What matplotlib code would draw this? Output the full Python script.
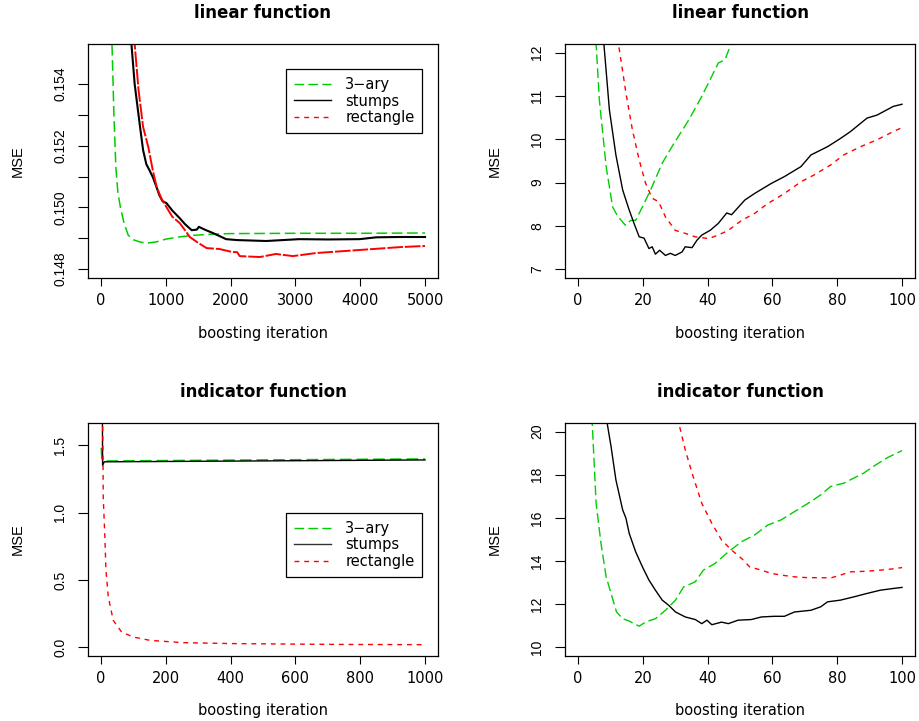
import matplotlib
matplotlib.use("Agg")
import matplotlib.pyplot as plt
from matplotlib.lines import Line2D

# ---- data ----
# top left: linear function, 5000 iterations
tl_iter_3ary = [100, 170, 200, 230, 260, 300, 355, 420, 500, 600, 700, 850, 1000,
                1200, 1400, 1700, 2000, 3000, 4000, 5000]
tl_mse_3ary = [0.165, 0.1553, 0.1530, 0.1513, 0.1505, 0.1500, 0.1495, 0.1491, 0.14895,
               0.14888, 0.14884, 0.14888, 0.14897, 0.14904, 0.14909, 0.14913, 0.14915,
               0.14916, 0.14916, 0.14917]
tl_iter_stumps = [430, 470, 520, 570, 610, 650, 700, 750, 800, 850, 900, 950, 1010, 1100,
                  1215, 1300, 1400, 1480, 1510, 1600, 1725, 1850, 1930, 2100, 2550, 3060,
                  3500, 3990, 4250, 4600, 5000]
tl_mse_stumps = [0.158, 0.1553, 0.1540, 0.15316, 0.1525, 0.15186, 0.1514, 0.1512, 0.15098,
                 0.1507, 0.1504, 0.1502, 0.15014, 0.1499, 0.14965, 0.14945, 0.14926,
                 0.14928, 0.14937, 0.14928, 0.14917, 0.14905, 0.14897, 0.14894, 0.14891,
                 0.14897, 0.14896, 0.14897, 0.14903, 0.14904, 0.14904]
tl_iter_rect = [480, 520, 580, 650, 730, 800, 860, 930, 1010, 1100, 1215, 1300, 1370, 1500,
                1630, 1830, 2030, 2100, 2140, 2450, 2700, 2960, 3320, 4000, 4600, 5000]
tl_mse_rect = [0.158, 0.1553, 0.1538, 0.15261, 0.15196, 0.1512, 0.15066, 0.1503, 0.15001,
               0.1497, 0.14949, 0.14925, 0.14904, 0.14885, 0.14868, 0.14865, 0.14855,
               0.14855, 0.14842, 0.14839, 0.14849, 0.14842, 0.14852, 0.14862, 0.14871,
               0.14875]

# top right: linear function, first 100 iterations
tr_iter_3ary = [4, 5.6, 6.6, 8.7, 10.7, 12.2, 14.6, 16.3, 17.8, 20.4, 22.4, 26, 29, 34.2,
                38.2, 43.3, 45.4, 47.2, 49]
tr_mse_3ary = [14, 12.2, 10.91, 9.37, 8.44, 8.23, 8.02, 8.13, 8.13, 8.52, 8.83, 9.45, 9.83,
               10.45, 10.99, 11.76, 11.84, 12.2, 12.5]
tr_iter_stumps = [7, 8.0, 9.7, 11.7, 13.8, 15.8, 17.3, 18.9, 20.4, 21.9, 22.9, 23.9, 25.2, 27,
                  28.5, 30, 32.1, 33.1, 35.2, 36.7, 38.2, 40.8, 43.3, 45.9, 47.4, 51.5, 54.5,
                  59.6, 63.7, 68.8, 71.9, 77, 81, 84.1, 89.2, 92.3, 97.3, 100]
tr_mse_stumps = [13.5, 12.2, 10.68, 9.64, 8.83, 8.37, 8.06, 7.75, 7.72, 7.48, 7.52, 7.35, 7.44,
                 7.32, 7.37, 7.32, 7.40, 7.52, 7.5, 7.67, 7.79, 7.9, 8.06, 8.3, 8.26, 8.6,
                 8.75, 8.98, 9.14, 9.37, 9.64, 9.83, 10.02, 10.18, 10.49, 10.56, 10.76, 10.81]
tr_iter_rect = [11, 12.5, 14.8, 16.8, 18.9, 20.9, 22.9, 24.9, 27, 30, 33.1, 36.2, 40.3, 43.3,
                46.4, 50.5, 54.5, 58.6, 63.7, 68.8, 72.9, 78, 82, 87.2, 92.3, 97.3, 100]
tr_mse_rect = [13.5, 12.2, 11.07, 10.22, 9.52, 8.98, 8.64, 8.56, 8.21, 7.9, 7.83, 7.75, 7.71,
               7.79, 7.9, 8.13, 8.29, 8.52, 8.75, 9.02, 9.18, 9.41, 9.64, 9.83, 9.99, 10.18,
               10.27]

# bottom left: indicator function, 1000 iterations
bl_iter_3ary = [1, 3, 8, 200, 500, 1000]
bl_mse_3ary = [1.48, 1.40, 1.382, 1.385, 1.39, 1.397]
bl_iter_stumps = [4, 5, 10, 300, 1000]
bl_mse_stumps = [2.0, 1.35, 1.376, 1.38, 1.39]
bl_iter_rect = [4, 6, 7, 12, 15.4, 22.6, 38, 63.6, 99.5, 151, 253, 407, 715, 1000]
bl_mse_rect = [2.0, 1.5, 1.116, 0.82, 0.572, 0.374, 0.2, 0.114, 0.077, 0.052, 0.035, 0.028,
               0.022, 0.02]

# bottom right: indicator function, first 100 iterations
br_iter_3ary = [3.5, 4.4, 5.6, 7.1, 8.7, 10.2, 11.9, 13.8, 15.8, 18.9, 20.9, 23.9, 27, 30.1,
                32.6, 36.2, 38.7, 42.3, 46.4, 50.5, 54.5, 58.6, 62.7, 66.8, 71.9, 74.9, 78,
                82, 84.1, 88.2, 91.2, 95.3, 100]
br_mse_3ary = [22, 20.4, 16.68, 14.82, 13.27, 12.5, 11.64, 11.33, 11.22, 10.98, 11.18, 11.33,
               11.72, 12.19, 12.8, 13.04, 13.58, 13.89, 14.43, 14.9, 15.21, 15.67, 15.91,
               16.29, 16.76, 17.07, 17.46, 17.61, 17.77, 18.08, 18.39, 18.78, 19.12]
br_iter_stumps = [8, 9.0, 10.2, 11.7, 13.8, 14.8, 15.8, 17.8, 19.9, 21.9, 23.9, 26, 28, 30.1,
                  33.1, 36.2, 38.2, 39.8, 41.3, 44.3, 46.4, 49.4, 53.5, 56.6, 60.6, 63.7,
                  66.8, 71.9, 74.9, 77, 81, 85.1, 89.2, 93.3, 97.3, 100]
br_mse_stumps = [22, 20.4, 19.32, 17.77, 16.37, 15.99, 15.29, 14.43, 13.73, 13.12, 12.65,
                 12.19, 11.95, 11.64, 11.41, 11.29, 11.1, 11.26, 11.05, 11.17, 11.1, 11.26,
                 11.29, 11.41, 11.44, 11.44, 11.64, 11.72, 11.88, 12.11, 12.19, 12.34, 12.5,
                 12.65, 12.73, 12.78]
br_iter_rect = [30, 31.1, 33.1, 35.2, 38.2, 41.3, 44.3, 47.4, 50.5, 53, 56.6, 59.6, 62.7,
                66.8, 70.9, 74.9, 78, 81, 84.1, 89.2, 93.3, 97.3, 100]
br_mse_rect = [22, 20.4, 19.16, 18.08, 16.68, 15.75, 14.98, 14.51, 14.12, 13.73, 13.58, 13.43,
               13.35, 13.27, 13.23, 13.23, 13.22, 13.35, 13.5, 13.53, 13.58, 13.64, 13.7]

series_names = ["3\u2212ary", "stumps", "rectangle"]

GREEN = "#00CD00"
RED = "#FF0000"
GREEN_DASH = (7, 3)
RED_DASH = (3.5, 3.5)
FONT_H = "DejaVu Sans"
FONT_V = "Liberation Sans"
W, H = 919.0, 721.0


def style_axes(ax, title, xlim, ylim, xticks, yticks, ylabels):
    ax.set_xlim(*xlim)
    ax.set_ylim(*ylim)
    ax.set_xticks(xticks)
    ax.set_xticklabels([str(t) for t in xticks], family=FONT_H, fontsize=10.5)
    ax.set_yticks(yticks)
    ax.set_yticklabels(ylabels, family=FONT_V, fontsize=10, rotation=90, va="center")
    ax.tick_params(axis="x", length=6, width=0.8, pad=5)
    ax.tick_params(axis="y", length=7, width=0.8, pad=8)
    for sp in ax.spines.values():
        sp.set_linewidth(0.9)
    hpx = ax.get_position().height * H
    ax.set_title(title, family=FONT_H, fontsize=12, fontweight="bold",
                 y=1 + 31 / hpx, va="center", pad=0)
    ax.set_xlabel("boosting iteration", family=FONT_H, fontsize=10.5)
    ax.set_ylabel("MSE", family=FONT_V, fontsize=10.5)
    ax.xaxis.set_label_coords(0.5, -55 / hpx)
    ax.xaxis.label.set_va("center")
    ax.yaxis.set_label_coords(-0.2, 0.5)
    ax.yaxis.label.set_va("center")


def add_legend(ax, anchor, stumps_color):
    handles = [
        Line2D([], [], color=GREEN, lw=1, dashes=GREEN_DASH),
        Line2D([], [], color=stumps_color, lw=1),
        Line2D([], [], color=RED, lw=1, dashes=RED_DASH),
    ]
    leg = ax.legend(handles, series_names, loc="upper left", bbox_to_anchor=anchor,
                    frameon=True, fancybox=False, framealpha=1, edgecolor="black",
                    prop={"family": FONT_H, "size": 10.5}, handlelength=2.5,
                    handletextpad=1.0, labelspacing=0.1, borderpad=0.55,
                    borderaxespad=0)
    leg.get_frame().set_linewidth(0.9)


fig = plt.figure(figsize=(9.19, 7.21), dpi=100)
ax_w = 350 / W
pos = {
    "tl": [88 / W, 1 - 278 / H, ax_w, 234 / H],
    "tr": [565 / W, 1 - 278 / H, ax_w, 234 / H],
    "bl": [88 / W, 1 - 656 / H, ax_w, 233 / H],
    "br": [565 / W, 1 - 656 / H, ax_w, 233 / H],
}

# top left
ax = fig.add_axes(pos["tl"])
ax.plot(tl_iter_3ary, tl_mse_3ary, color=GREEN, lw=1.1, dashes=GREEN_DASH)
ax.plot(tl_iter_stumps, tl_mse_stumps, color="black", lw=1.5)
ax.plot(tl_iter_rect, tl_mse_rect, color=RED, lw=1.4, dashes=(8, 1))
style_axes(ax, "linear function", (-200, 5200), (0.14771, 0.1553),
           [0, 1000, 2000, 3000, 4000, 5000],
           [0.148, 0.149, 0.150, 0.151, 0.152, 0.153, 0.154],
           ["0.148", "", "0.150", "", "0.152", "", "0.154"])
add_legend(ax, (0.566, 0.893), "black")

# top right
ax = fig.add_axes(pos["tr"])
ax.plot(tr_iter_3ary, tr_mse_3ary, color=GREEN, lw=1, dashes=GREEN_DASH)
ax.plot(tr_iter_stumps, tr_mse_stumps, color="black", lw=1)
ax.plot(tr_iter_rect, tr_mse_rect, color=RED, lw=1, dashes=RED_DASH)
style_axes(ax, "linear function", (-4, 104), (6.8, 12.2),
           [0, 20, 40, 60, 80, 100], [7, 8, 9, 10, 11, 12],
           ["7", "8", "9", "10", "11", "12"])

# bottom left
ax = fig.add_axes(pos["bl"])
ax.plot(bl_iter_3ary, bl_mse_3ary, color=GREEN, lw=1.2, dashes=GREEN_DASH)
ax.plot(bl_iter_stumps, bl_mse_stumps, color="black", lw=1)
ax.plot(bl_iter_rect, bl_mse_rect, color=RED, lw=1, dashes=RED_DASH)
style_axes(ax, "indicator function", (-40, 1040), (-0.064, 1.664),
           [0, 200, 400, 600, 800, 1000], [0.0, 0.5, 1.0, 1.5],
           ["0.0", "0.5", "1.0", "1.5"])
add_legend(ax, (0.566, 0.614), "#333333")

# bottom right
ax = fig.add_axes(pos["br"])
ax.plot(br_iter_3ary, br_mse_3ary, color=GREEN, lw=1, dashes=GREEN_DASH)
ax.plot(br_iter_stumps, br_mse_stumps, color="black", lw=1)
ax.plot(br_iter_rect, br_mse_rect, color=RED, lw=1, dashes=RED_DASH)
style_axes(ax, "indicator function", (-4, 104), (9.6, 20.4),
           [0, 20, 40, 60, 80, 100], [10, 12, 14, 16, 18, 20],
           ["10", "12", "14", "16", "18", "20"])

fig.savefig("out.png", dpi=100)
